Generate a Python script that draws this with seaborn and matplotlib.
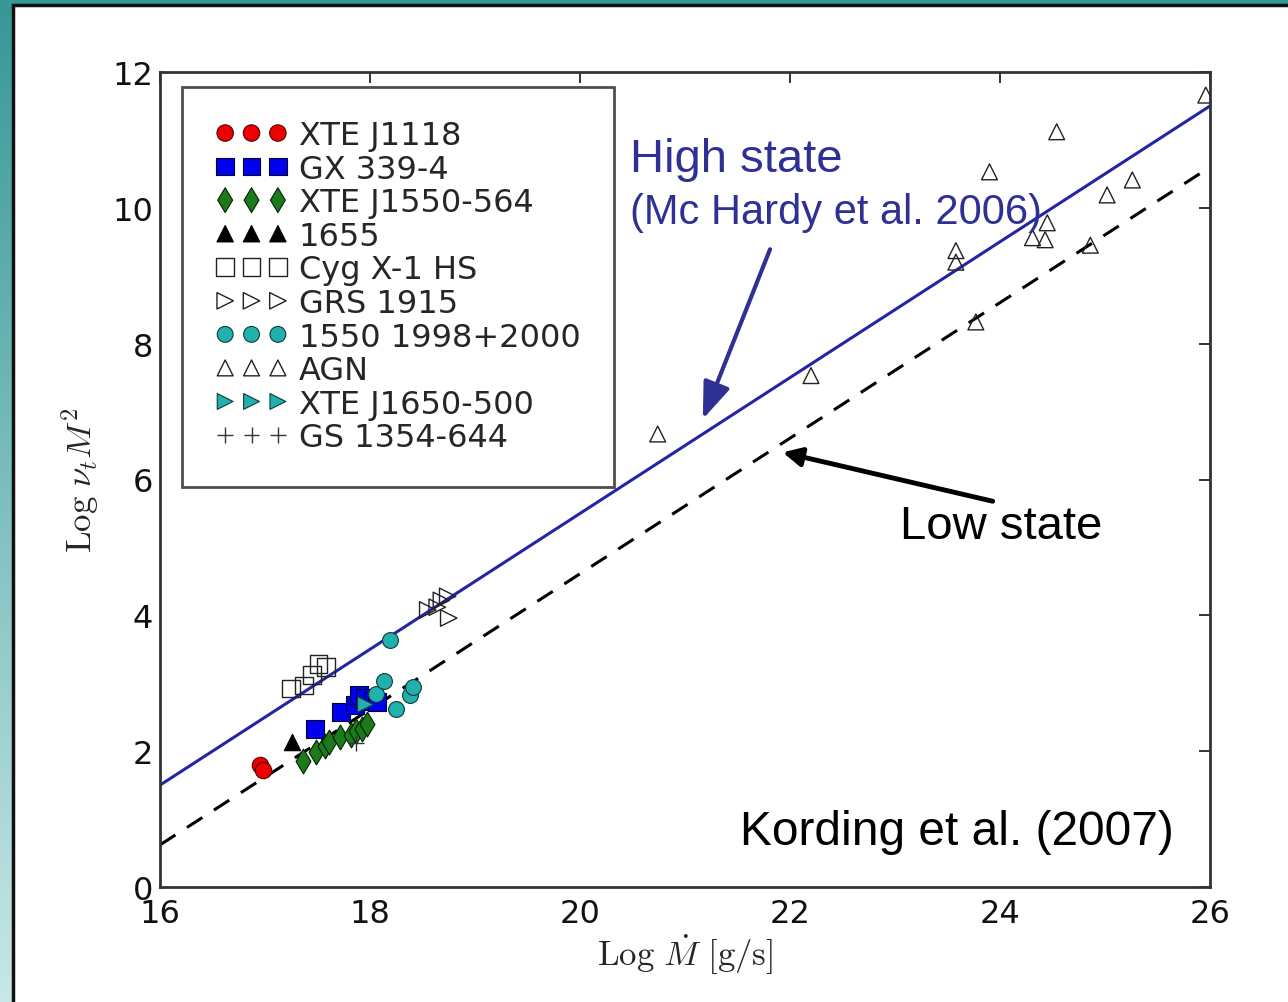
import numpy as np
import pandas as pd
import matplotlib
matplotlib.use("Agg")
import matplotlib.pyplot as plt
from matplotlib.colors import LinearSegmentedColormap
from matplotlib.patches import Rectangle
import seaborn as sns

# ---------------- data ----------------
xte_j1118_x = [16.95, 16.98]
xte_j1118_y = [1.79, 1.72]

gx339_x = [17.48, 17.72, 17.86, 17.90, 17.95, 18.03, 18.07]
gx339_y = [2.32, 2.58, 2.68, 2.82, 2.78, 2.74, 2.72]

xte1550_x = [17.36, 17.49, 17.57, 17.61, 17.71, 17.82, 17.87, 17.92, 17.97]
xte1550_y = [1.86, 1.99, 2.08, 2.14, 2.21, 2.24, 2.29, 2.33, 2.40]

h1655_x = [17.26]
h1655_y = [2.14]

cyg_x = [17.25, 17.37, 17.45, 17.51, 17.58]
cyg_y = [2.92, 2.97, 3.12, 3.28, 3.24]

grs_x = [18.55, 18.64, 18.68, 18.74, 18.75]
grs_y = [4.08, 4.12, 4.22, 4.28, 3.96]

c1550_x = [18.06, 18.13, 18.19, 18.25, 18.38, 18.41]
c1550_y = [2.84, 3.04, 3.63, 2.62, 2.83, 2.94]

agn_x = [20.74, 22.20, 23.58, 23.58, 23.77, 23.90, 24.31, 24.43, 24.45,
         24.54, 24.86, 25.02, 25.26, 25.96]
agn_y = [6.67, 7.53, 9.37, 9.20, 8.32, 10.53, 9.56, 9.53, 9.78,
         11.12, 9.45, 10.19, 10.41, 11.66]

j1650_x = [17.95]
j1650_y = [2.70]

gs1354_x = [17.87]
gs1354_y = [2.12]

fit_x = [16, 26]
high_y = [1.5, 11.5]
low_y = [0.62, 10.6]

x_ticks = [16, 18, 20, 22, 24, 26]
y_ticks = [0, 2, 4, 6, 8, 10, 12]

# ---------------- style ----------------
sns.set_style("white")
plt.rcParams["font.family"] = ["DejaVu Sans"]
plt.rcParams["mathtext.fontset"] = "cm"

fig = plt.figure(figsize=(12.88, 10.03), dpi=100)

# background frame (teal gradient + white slide panel)
bg = fig.add_axes([0, 0, 1, 1], zorder=0)
bg.axis("off")
cmap = LinearSegmentedColormap.from_list("teal", ["#389797", "#7fbfbf", "#c9e7e7"])
grad = np.linspace(0, 1, 256).reshape(-1, 1)
bg.imshow(grad, aspect="auto", cmap=cmap, extent=[0, 1, 0, 1], origin="upper")
bg.add_patch(Rectangle((13 / 1288, -0.01), 1.0, 1 - 6 / 1003 + 0.01,
                       transform=fig.transFigure, facecolor="white",
                       edgecolor="#111111", lw=2.5, clip_on=False))

ax = fig.add_axes([160 / 1288, 1 - 888 / 1003, 1050 / 1288, 815 / 1003], zorder=2)
ax.set_facecolor("white")

# fit lines
sns.lineplot(x=fit_x, y=high_y, ax=ax, color="#2424a6", lw=2.2, zorder=1)
sns.lineplot(x=fit_x, y=low_y, ax=ax, color="black", lw=2.2, zorder=1,
             linestyle=(0, (6, 4.5)))

def sc(x, y, marker, s, fc, ec, label, lw=0.8):
    sns.scatterplot(x=x, y=y, ax=ax, marker=marker, s=s, facecolor=fc,
                    edgecolor=ec, linewidth=lw, label=label, zorder=3, legend=False)

sc(xte_j1118_x, xte_j1118_y, "o", 140, "#ee0000", "#550000", "XTE J1118")
sc(gx339_x, gx339_y, "s", 160, "#0000ee", "#000033", "GX 339-4")
sc(xte1550_x, xte1550_y, "d", 160, "#1c7a1c", "#002200", "XTE J1550-564")
sc(h1655_x, h1655_y, "^", 140, "black", "black", "1655")
sc(cyg_x, cyg_y, "s", 160, "none", "#222222", "Cyg X-1 HS", lw=1.0)
sc(grs_x, grs_y, ">", 140, "none", "#222222", "GRS 1915", lw=1.0)
sc(c1550_x, c1550_y, "o", 130, "#22b0ac", "#0b3b3b", "1550 1998+2000")
sc(agn_x, agn_y, "^", 130, "none", "#222222", "AGN", lw=1.0)
sc(j1650_x, j1650_y, ">", 130, "#22b0ac", "#0b3b3b", "XTE J1650-500")
sns.scatterplot(x=gs1354_x, y=gs1354_y, ax=ax, marker="+", s=130, color="#333333",
                linewidth=1.0, label="GS 1354-644", zorder=3, legend=False)

ax.set_xlim(16, 26)
ax.set_ylim(0, 12)
ax.set_xticks(x_ticks)
ax.set_yticks(y_ticks)
ax.tick_params(direction="in", length=8, width=1.2, top=True, right=True,
               labelsize=23, colors="#111111")
ax.tick_params(axis="y", pad=5)
ax.tick_params(axis="x", pad=8)
for sp in ax.spines.values():
    sp.set_color("#333333")
    sp.set_linewidth(2.0)
    sp.set_visible(True)

ax.set_xlabel(r"$\mathrm{Log}\ \dot{M}\ \mathrm{[g/s]}$", fontsize=25, labelpad=2)
ax.set_ylabel(r"$\mathrm{Log}\ \nu_t M^2$", fontsize=25, labelpad=8)

leg = ax.legend(loc="upper left", bbox_to_anchor=(0.021, 0.982), borderaxespad=0,
                scatterpoints=3, scatteryoffsets=[0.5], fontsize=23,
                frameon=True, fancybox=False, shadow=False, labelspacing=0.08,
                handlelength=2.25, handletextpad=0.35, borderpad=1.05)
leg.get_frame().set_edgecolor("#222222")
leg.get_frame().set_linewidth(2.0)

blue = "#2e3193"
ax.text(20.48, 10.72, "High state", color=blue, fontsize=34,
        family="Liberation Sans", va="center", ha="left")
ax.text(20.48, 9.94, "(Mc Hardy et al. 2006)", color=blue, fontsize=30,
        family="Liberation Sans", va="center", ha="left")
ax.text(23.05, 5.31, "Low state", color="black", fontsize=34,
        family="Liberation Sans", va="center", ha="left")
ax.text(21.52, 0.82, "Kording et al. (2007)", color="black", fontsize=34.5,
        family="Liberation Sans", va="center", ha="left")

ax.annotate("", xy=(21.17, 6.89), xytext=(21.81, 9.39),
            arrowprops=dict(arrowstyle="-|>,head_width=0.3,head_length=0.8",
                            color=blue, lw=3.0,
                            mutation_scale=28, shrinkA=0, shrinkB=0))
ax.annotate("", xy=(21.93, 6.40), xytext=(23.93, 5.68),
            arrowprops=dict(arrowstyle="-|>", color="black", lw=3.5,
                            mutation_scale=28, shrinkA=0, shrinkB=0))

fig.savefig("out.png", dpi=100)
